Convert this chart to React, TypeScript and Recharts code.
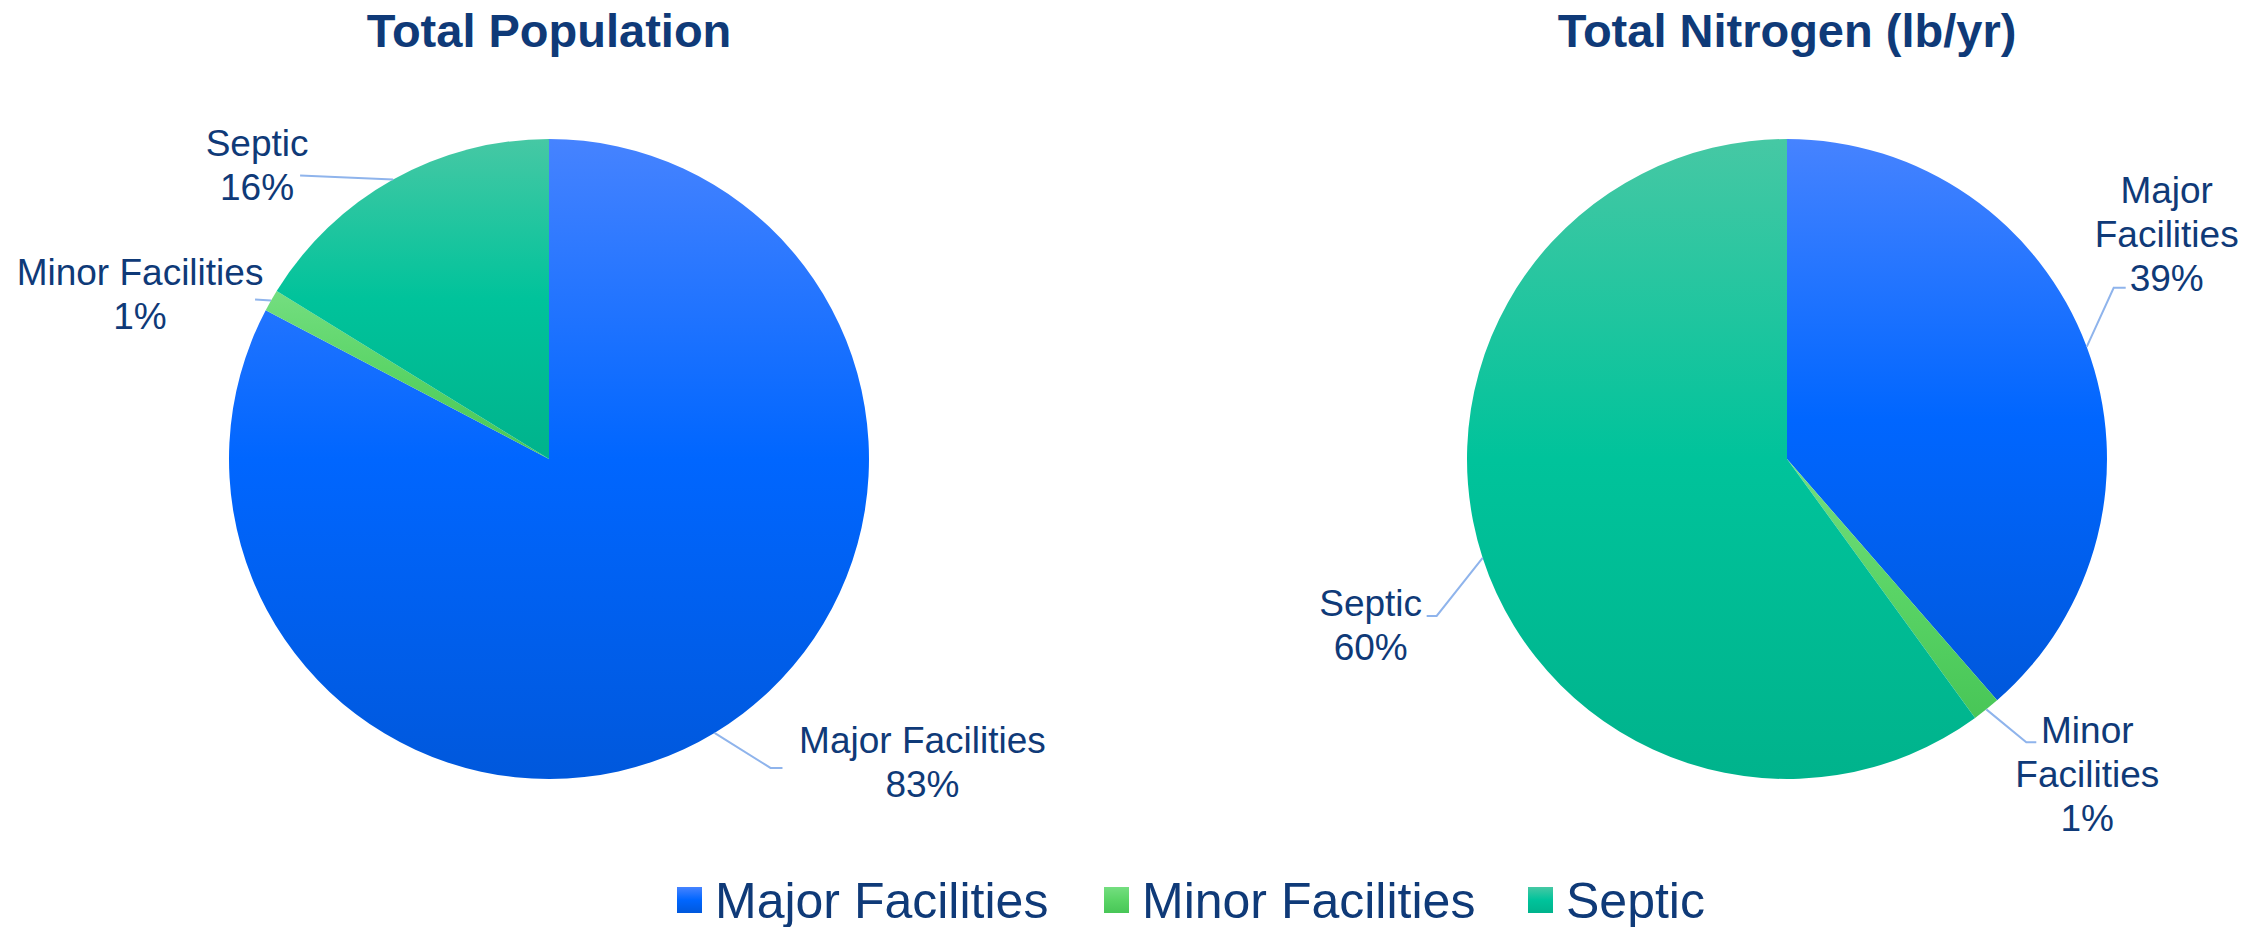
import React from 'react';
import { PieChart, Pie, Cell, Legend } from 'recharts';

// ---------- data ----------
const categories = ['Major Facilities', 'Minor Facilities', 'Septic'];
const populationValues = [82.7, 1.1, 16.2];
const nitrogenValues = [38.6, 1.4, 60.0];
const chartTitles = ['Total Population', 'Total Nitrogen (lb/yr)'];

const populationData = categories.map((name, i) => ({ name, value: populationValues[i] }));
const nitrogenData = categories.map((name, i) => ({ name, value: nitrogenValues[i] }));

// ---------- style ----------
const W = 2265;
const H = 927;
const FONT = '"Liberation Sans", Arial, Helvetica, sans-serif';
const TEXT = '#0f3a78';
const LEADER = '#8fb4ec';
const gradIds = ['gMajor', 'gMinor', 'gSeptic'];
const gradStops = [
  ['#4683ff', '#0066ff', '#0058dc'],
  ['#74de80', '#5ad466', '#48c657'],
  ['#46c8a4', '#00c39b', '#00b38c'],
];
const pieCenters = [
  { cx: 549, cy: 459 },
  { cx: 1787, cy: 459 },
];
const R = 320;
const LABEL_SIZE = 37;
const LINE_H = 44;

type LabelLayout = { elbow: number[]; tail: number[]; text: number[]; wrap: boolean };
const populationLabelLayout: LabelLayout[] = [
  { elbow: [56, 35], tail: [68, 35], text: [208, 20], wrap: false },
  { elbow: [-16, -1], tail: [-16, -1], text: [-131, -15], wrap: false },
  { elbow: [-93, -4], tail: [-93, -4], text: [-136, -24], wrap: false },
];
const nitrogenLabelLayout: LabelLayout[] = [
  { elbow: [27, -59], tail: [39, -59], text: [80, -144], wrap: true },
  { elbow: [40, 33], tail: [50, 33], text: [101, 34], wrap: true },
  { elbow: [-46, 58], tail: [-56, 58], text: [-112, 58], wrap: false },
];
const legendX = [677, 1104, 1528];
const LEGEND_TOP = 850;

const RAD = Math.PI / 180;

function makeLabel(layout: LabelLayout[]) {
  return (props: any) => {
    const { cx, cy, midAngle, outerRadius, index, name, percent } = props;
    const L = layout[index];
    const ex = cx + outerRadius * Math.cos(-midAngle * RAD);
    const ey = cy + outerRadius * Math.sin(-midAngle * RAD);
    const bx = ex + L.elbow[0];
    const by = ey + L.elbow[1];
    const tx = ex + L.tail[0];
    const ty = ey + L.tail[1];
    const lines = (L.wrap ? String(name).split(' ') : [String(name)]).concat([
      `${Math.round(percent * 100)}%`,
    ]);
    const textX = ex + L.text[0];
    const textY = ey + L.text[1];
    return (
      <g key={`lbl-${index}`}>
        <polyline
          points={`${ex},${ey} ${bx},${by} ${tx},${ty}`}
          fill="none"
          stroke={LEADER}
          strokeWidth={2}
        />
        <text
          x={textX}
          y={textY}
          textAnchor="middle"
          fill={TEXT}
          fontFamily={FONT}
          fontSize={LABEL_SIZE}
        >
          {lines.map((ln, i) => (
            <tspan key={i} x={textX} y={textY + i * LINE_H}>
              {ln}
            </tspan>
          ))}
        </text>
      </g>
    );
  };
}

function LegendContent(props: any) {
  const seen = new Set<string>();
  const items = (props.payload || []).filter((p: any) => {
    if (seen.has(p.value)) return false;
    seen.add(p.value);
    return true;
  });
  const list = items.length ? items.map((p: any) => p.value) : categories;
  return (
    <svg width={W} height={H - LEGEND_TOP} style={{ display: 'block', overflow: 'visible' }}>
      {list.map((name: string, i: number) => {
        const ci = categories.indexOf(name);
        return (
          <g key={name}>
            <rect x={legendX[i]} y={37} width={25} height={26} fill={`url(#${gradIds[ci]})`} />
            <text x={legendX[i] + 38} y={68} fill={TEXT} fontFamily={FONT} fontSize={50}>
              {name}
            </text>
          </g>
        );
      })}
    </svg>
  );
}

export default function App() {
  return (
    <div style={{ position: 'absolute', left: 0, top: 0, width: W, height: H, background: '#fff' }}>
      <svg width={0} height={0} style={{ position: 'absolute' }}>
        <defs>
          {gradIds.map((id, i) => (
            <linearGradient key={id} id={id} x1="0" y1="0" x2="0" y2="1">
              <stop offset="0%" stopColor={gradStops[i][0]} />
              <stop offset="50%" stopColor={gradStops[i][1]} />
              <stop offset="100%" stopColor={gradStops[i][2]} />
            </linearGradient>
          ))}
        </defs>
      </svg>
      <PieChart width={W} height={H} margin={{ top: 0, right: 0, bottom: 0, left: 0 }}>
        <Pie
          data={populationData}
          dataKey="value"
          nameKey="name"
          cx={pieCenters[0].cx}
          cy={pieCenters[0].cy}
          outerRadius={R}
          startAngle={90}
          endAngle={-270}
          stroke="none"
          label={makeLabel(populationLabelLayout)}
          labelLine={false}
          isAnimationActive={false}
        >
          {populationData.map((d, i) => (
            <Cell key={d.name} fill={`url(#${gradIds[i]})`} />
          ))}
        </Pie>
        <Pie
          data={nitrogenData}
          dataKey="value"
          nameKey="name"
          cx={pieCenters[1].cx}
          cy={pieCenters[1].cy}
          outerRadius={R}
          startAngle={90}
          endAngle={-270}
          stroke="none"
          label={makeLabel(nitrogenLabelLayout)}
          labelLine={false}
          isAnimationActive={false}
        >
          {nitrogenData.map((d, i) => (
            <Cell key={d.name} fill={`url(#${gradIds[i]})`} />
          ))}
        </Pie>
        <Legend
          content={<LegendContent />}
          wrapperStyle={{ position: 'absolute', left: 0, top: LEGEND_TOP, width: W, height: H - LEGEND_TOP }}
        />
      </PieChart>
      <svg
        width={W}
        height={70}
        style={{ position: 'absolute', left: 0, top: 0, pointerEvents: 'none' }}
      >
        {chartTitles.map((t, i) => (
          <text
            key={t}
            x={pieCenters[i].cx}
            y={47}
            textAnchor="middle"
            fill={TEXT}
            fontFamily={FONT}
            fontWeight="bold"
            fontSize={47}
          >
            {t}
          </text>
        ))}
      </svg>
    </div>
  );
}
